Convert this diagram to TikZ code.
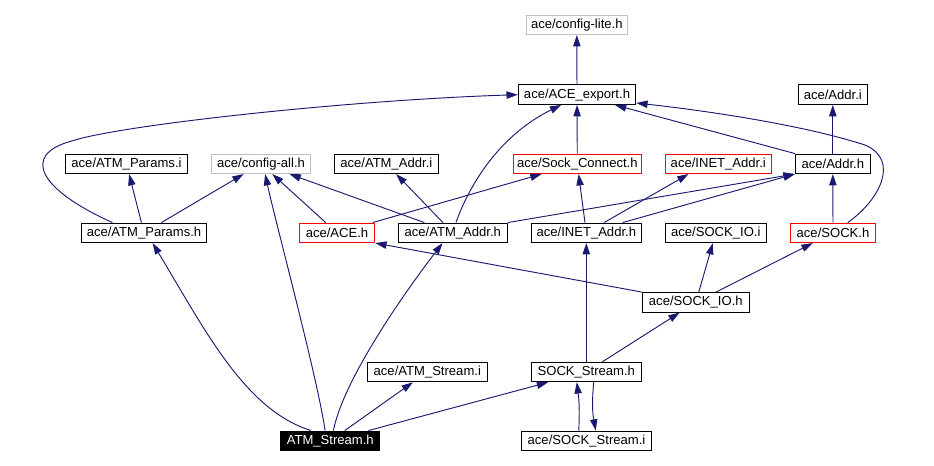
\documentclass[tikz,border=0pt]{standalone}
\usepackage{fontspec}
\setmainfont{Liberation Sans}
\usepackage{tikz}
\usetikzlibrary{arrows.meta}

\definecolor{edgeblue}{RGB}{25,25,112}
\definecolor{boxgrey}{RGB}{191,191,191}

\begin{document}
\begin{tikzpicture}[x=0.75pt,y=0.75pt,yscale=-1,xscale=1,
  hdr/.style={draw=black,line width=0.75pt,inner sep=0pt,minimum height={0.75*19.5},minimum width={0.75*#1},font=\fontsize{9.8}{11}\selectfont},
  ghosthdr/.style={hdr=#1,draw=boxgrey},
  redhdr/.style={hdr=#1,draw=red},
  tophdr/.style={hdr=#1,fill=black,text=white},
  dep/.style={draw=edgeblue,line width=0.7pt,-{Triangle[length=8.5pt,width=5.5pt]}}]
\useasboundingbox (0,0) rectangle (934,465);

% Text Node
\node[ghosthdr=101] (configlite) at (576.8,24.8) {ace/config-lite.h};
% Text Node
\node[hdr=117.4] (aceexport) at (577,94.7) {ace/ACE\_export.h};
% Text Node
\node[hdr=69] (addri) at (832.8,94.7) {ace/Addr.i};
% Text Node
\node[hdr=122.4] (atmparamsi) at (126.5,163.8) {ace/ATM\_Params.i};
% Text Node
\node[ghosthdr=99.4] (configall) at (261,163.8) {ace/config-all.h};
% Text Node
\node[hdr=104] (atmaddri) at (386.3,163.8) {ace/ATM\_Addr.i};
% Text Node
\node[redhdr=128] (sockconnect) at (577.3,163.8) {ace/Sock\_Connect.h};
% Text Node
\node[redhdr=106] (inetaddri) at (718.3,163.8) {ace/INET\_Addr.i};
% Text Node
\node[hdr=75] (addrh) at (832.8,163.8) {ace/Addr.h};
% Text Node
\node[hdr=125.4] (atmparamsh) at (144,232.8) {ace/ATM\_Params.h};
% Text Node
\node[redhdr=75.4] (aceh) at (337,232.8) {ace/ACE.h};
% Text Node
\node[hdr=109] (atmaddrh) at (452.8,232.8) {ace/ATM\_Addr.h};
% Text Node
\node[hdr=110] (inetaddrh) at (586.3,232.8) {ace/INET\_Addr.h};
% Text Node
\node[hdr=101] (sockioi) at (715.8,232.8) {ace/SOCK\_IO.i};
% Text Node
\node[redhdr=85.4] (sockh) at (833,232.8) {ace/SOCK.h};
% Text Node
\node[hdr=107] (sockioh) at (695.8,302.3) {ace/SOCK\_IO.h};
% Text Node
\node[hdr=120] (atmstreami) at (427.3,372) {ace/ATM\_Stream.i};
% Text Node
\node[hdr=110] (sockstreamh) at (586.3,372) {SOCK\_Stream.h};
% Text Node
\node[tophdr=98.7] (atmstreamh) at (330.3,440.8) {ATM\_Stream.h};
% Text Node
\node[hdr=130.4] (sockstreami) at (586.5,440.8) {ace/SOCK\_Stream.i};

%Straight Lines
\draw[dep] (aceexport) -- (configlite);
\draw[dep] (atmparamsh) -- (atmparamsi);
\draw[dep] (atmparamsh) -- (configall);
\draw[dep] (aceh) -- (configall);
\draw[dep] (atmaddrh) -- (configall);
\draw[dep] (atmaddrh) -- (atmaddri);
\draw[dep] (atmaddrh.north east) -- (addrh.south west);
\draw[dep] (aceh) -- (sockconnect);
\draw[dep] (sockconnect) -- (aceexport);
\draw[dep] (inetaddrh) -- (sockconnect);
\draw[dep] (inetaddrh) -- (inetaddri.199);
\draw[dep] (inetaddrh) -- (addrh.south west);
\draw[dep] (addrh) -- (aceexport);
\draw[dep] (addrh) -- (addri);
\draw[dep] (sockh) -- (addrh);
\draw[dep] (sockioh.north west) -- (aceh.south east);
\draw[dep] (sockioh) -- (sockioi);
\draw[dep] (sockioh) -- (sockh);
\draw[dep] (sockstreamh) -- (inetaddrh);
\draw[dep] (sockstreamh) -- (sockioh);
\draw[dep] (atmstreamh) -- (atmstreami);
\draw[dep] (atmstreamh) -- (sockstreamh);

%Curve Lines
\draw[dep] (atmparamsh.162) .. controls (40,190) and (20,155) .. (71.7,141) .. controls (120,125) and (350,100) .. (aceexport.west);
\draw[dep] (atmaddrh.73) .. controls (475,170) and (510,130) .. (aceexport.213);
\draw[dep] (sockh.35) .. controls (880,200) and (900,160) .. (865,145) .. controls (800,124) and (700,110) .. (aceexport.352);
\draw[dep] (sockstreamh.306) to[bend left=8] (sockstreami.48);
\draw[dep] (sockstreami.127) to[bend left=5] (sockstreamh.227);
\draw[dep] (atmstreamh.152) .. controls (245,410) and (205,330) .. (atmparamsh.310);
\draw[dep] (atmstreamh.117) .. controls (318,380) and (275,220) .. (configall.292);
\draw[dep] (atmstreamh.73) .. controls (342,385) and (395,305) .. (atmaddrh.225);

\end{tikzpicture}
\end{document}
